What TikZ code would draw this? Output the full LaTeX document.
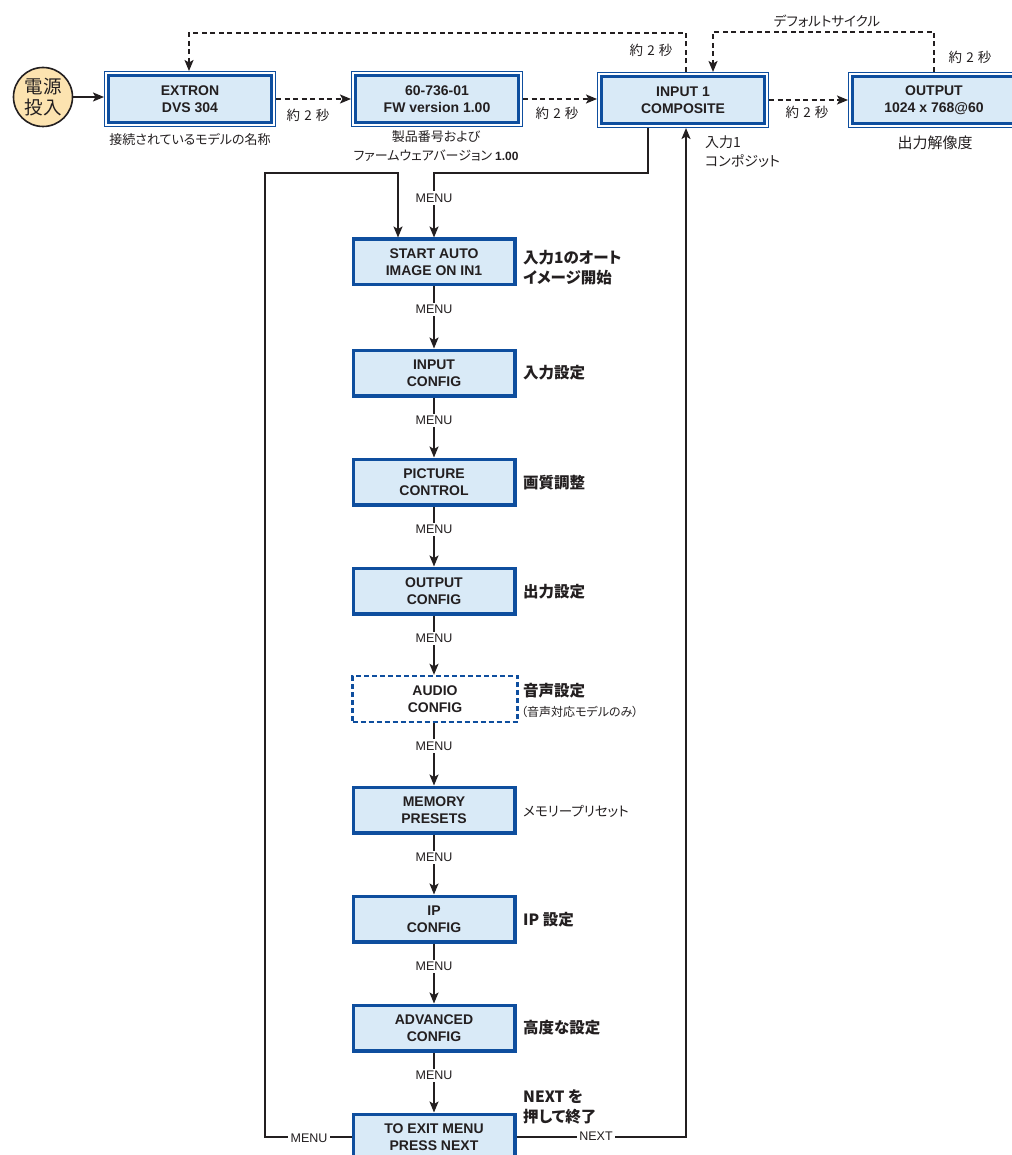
\documentclass[tikz,border=0pt]{standalone}
\usepackage{fontspec}
\setmainfont{Liberation Sans}
\newfontfamily\jp[RawFeature=+palt]{Noto Sans CJK JP}
\usetikzlibrary{arrows.meta,calc}
\definecolor{bblue}{HTML}{0E4E9E}
\definecolor{bfill}{HTML}{D9EAF7}
\definecolor{cfill}{HTML}{FCE3B0}
\definecolor{ink}{HTML}{231F20}
\tikzset{
  topbox/.style={draw=bblue, line width=3pt, fill=bfill, minimum width=162.8pt, minimum height=46.8pt,
    inner sep=0pt, outer sep=4.6pt, align=center, text=ink, font=\fontsize{14}{17}\selectfont\bfseries},
  outerline/.style={draw=bblue, line width=1.3pt},
  menubox/.style={draw=bblue, line width=3.5pt, fill=bfill, minimum width=161.5pt, minimum height=45.5pt,
    inner sep=0pt, align=center, text=ink, font=\fontsize{14}{17}\selectfont\bfseries},
  audiobox/.style={draw=bblue, line width=2.4pt, dash pattern=on 5pt off 3pt, fill=white, minimum width=165pt,
    minimum height=46pt, inner sep=0pt, align=center, text=ink, font=\fontsize{14}{17}\selectfont\bfseries},
  pwr/.style={circle, draw=ink, line width=1.6pt, fill=cfill, minimum size=59pt, inner sep=0pt, align=center,
    text=ink, font=\jp\fontsize{18.5}{21.5}\selectfont},
  arr/.style={draw=ink, line width=1.6pt, -{Stealth[length=11pt,width=9pt,inset=2.5pt]}},
  dasharr/.style={arr, dash pattern=on 5pt off 3.5pt},
  menulbl/.style={fill=white, inner sep=2.5pt, text=ink, font=\fontsize{12.5}{14}\selectfont},
  seclbl/.style={text=ink, inner sep=0pt, font=\jp\fontsize{13.5}{16}\selectfont},
  smalllbl/.style={text=ink, inner sep=0pt, align=center, font=\jp\fontsize{13}{18.5}\selectfont},
  rlabb/.style={text=ink, inner sep=0pt, anchor=west, align=left, font=\jp\bfseries\fontsize{15.5}{20}\selectfont},
  rlab/.style={text=ink, inner sep=0pt, anchor=west, align=left, font=\jp\fontsize{13.5}{16}\selectfont},
}
\newcommand{\twosec}{約\hspace{0.3em}2\hspace{0.3em}秒}
\begin{document}
\begin{tikzpicture}[x=1pt,y=-1pt]
\useasboundingbox (0,0) rectangle (1011,1155);
% top row
\node[pwr] (pw) at (43,97) {電源\\投入};
\node[topbox] (E) at (190,99) {EXTRON\\DVS 304};
\node[topbox] (F) at (437,99) {60-736-01\\FW version 1.00};
\node[topbox] (I) at (683,100) {INPUT 1\\COMPOSITE};
\node[topbox] (O) at (934,100) {OUTPUT\\1024 x 768@60};
\foreach \n in {E,F,I,O}
  \draw[outerline] ([shift={(0.65pt,0.65pt)}]\n.south west) rectangle ([shift={(-0.65pt,-0.65pt)}]\n.north east);
% column
\node[menubox] (S) at (434,262) {START AUTO\\IMAGE ON IN1};
\node[menubox] (IC) at (434,373) {INPUT\\CONFIG};
\node[menubox] (PC) at (434,482) {PICTURE\\CONTROL};
\node[menubox] (OC) at (434,591) {OUTPUT\\CONFIG};
\node[audiobox] (AC) at (435,699) {AUDIO\\CONFIG};
\node[menubox] (MP) at (434,810) {MEMORY\\PRESETS};
\node[menubox] (IP) at (434,919) {IP\\CONFIG};
\node[menubox] (AD) at (434,1028) {ADVANCED\\CONFIG};
\node[menubox] (X) at (434,1137) {TO EXIT MENU\\PRESS NEXT};
% top connectors
\draw[arr] (pw) -- (E.west |- pw.east);
\draw[dasharr] (E) -- (F);
\draw[dasharr] (F.east) -- (F.east -| I.west);
\draw[dasharr] (I.east) -- (I.east -| O.west);
\draw[dasharr] ([xshift=3pt]I.north) -- ++(0,-39) -| ([xshift=-1pt]E.north);
\draw[dasharr] (O.north) -- ++(0,-40) -| ([xshift=30pt]I.north);
\node[seclbl] at (308,115) {\twosec};
\node[seclbl] at (557,113) {\twosec};
\node[seclbl] at (807,112) {\twosec};
\node[seclbl] at (651,50) {\twosec};
\node[seclbl] at (970,57) {\twosec};
\node[seclbl] at (827,21) {デフォルトサイクル};
% labels under top boxes
\node[smalllbl] at (190,139) {接続されているモデルの名称};
\node[smalllbl] at (436,146) {製品番号および\\ファームウェアバージョン {\normalfont\bfseries\fontsize{12}{14}\selectfont 1.00}};
\node[smalllbl, anchor=west, align=left, font=\jp\fontsize{14}{19}\selectfont] at (705,152) {入力1\\コンポジット};
\node[smalllbl, font=\jp\fontsize{15}{18}\selectfont] at (935,143) {出力解像度};
% loops
\coordinate (lc) at (265,173);
\draw[arr] ([xshift=-35pt]I.south) -- ++(0,45) -| (S.north);
\node[menulbl] at (434,198) {MENU};
\draw[arr] (X.west) -| (lc) -| ([xshift=-36pt]S.north);
\draw[arr] (X.east) -| ([xshift=3pt]I.south);
\node[menulbl] at (309,1138) {MENU};
\node[menulbl] at (596,1136) {NEXT};
% column connectors
\foreach \a/\b in {S/IC,IC/PC,PC/OC,OC/AC,AC/MP,MP/IP,IP/AD,AD/X} {
  \draw[arr] (\a.south -| S.south) -- (\b.north -| S.north);
  \node[menulbl] at ($(\a.south -| S.south)+(0,23)$) {MENU};
}
% right labels
\node[rlabb] at (523,268) {入力1のオート\\イメージ開始};
\node[rlabb] at (523,373) {入力設定};
\node[rlabb] at (523,483) {画質調整};
\node[rlabb] at (523,592) {出力設定};
\node[rlabb] at (523,691) {音声設定};
\node[rlab, font=\jp\fontsize{12}{14}\selectfont] at (521,712) {（音声対応モデルのみ）};
\node[rlab] at (523,811) {メモリープリセット};
\node[rlabb] at (523,920) {IP 設定};
\node[rlabb] at (523,1028) {高度な設定};
\node[rlabb] at (523,1107) {NEXT を\\押して終了};
\end{tikzpicture}
\end{document}
